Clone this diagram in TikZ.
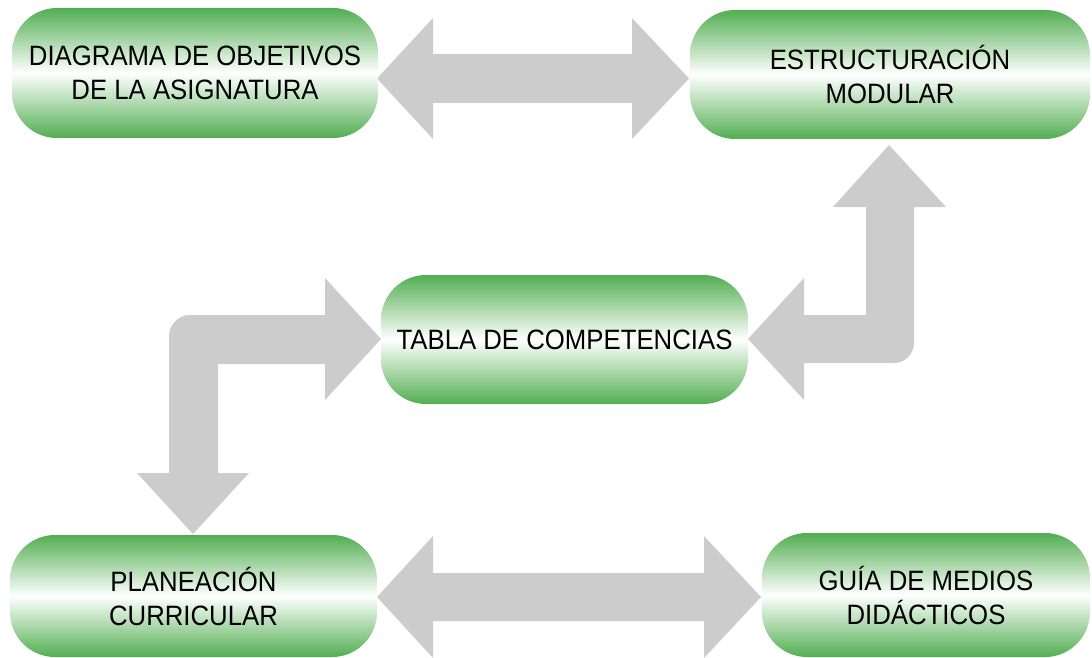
\documentclass[tikz,border=0pt]{standalone}
\usepackage{fontspec}
\newfontfamily\labfont[FakeStretch=0.92]{Liberation Sans}
\definecolor{boxgreen}{RGB}{82,174,82}
\definecolor{arrowgray}{RGB}{204,204,204}
\begin{document}
\begin{tikzpicture}[x=1pt,y=-1pt,
  greenbox/.style={rounded corners=45pt, top color=boxgreen, bottom color=boxgreen,
    middle color=white, draw=none, inner sep=0pt, align=center,
    font=\labfont\fontsize{28}{34}\selectfont, text=black},
  blockarrow/.style={fill=arrowgray, draw=none}]
\useasboundingbox (0,0) rectangle (1092,658);
% block arrows
\fill[blockarrow] (377,78.5) -- (433,18) -- (433,54) -- (632,54) -- (632,18) -- (689,78.5)
  -- (632,139) -- (632,103) -- (433,103) -- (433,139) -- cycle;
\fill[blockarrow] (377,597) -- (433,536) -- (433,573) -- (704,573) -- (704,536) -- (761,597)
  -- (704,658) -- (704,621) -- (433,621) -- (433,658) -- cycle;
\fill[blockarrow] (381,339) -- (325,278) -- (325,315) -- (189,315)
  .. controls (178,315) and (169,326) .. (169,335)
  -- (169,473) -- (137,473) -- (193,534) -- (249,473) -- (218,473) -- (218,364)
  -- (325,364) -- (325,400) -- cycle;
\fill[blockarrow] (889,145) -- (946,207) -- (914,207) -- (914,343)
  .. controls (914,354) and (905,363) .. (894,363)
  -- (804,363) -- (804,400) -- (748,339) -- (804,278) -- (804,315) -- (866,315)
  -- (866,207) -- (833,207) -- cycle;
% boxes
\node[greenbox, minimum width=366pt, minimum height=130pt] (b1) at (195,73)
  {DIAGRAMA DE OBJETIVOS\\DE LA ASIGNATURA};
\node[greenbox, minimum width=400pt, minimum height=129pt] (b2) at (890,74.5)
  {ESTRUCTURACIÓN\\MODULAR};
\node[greenbox, minimum width=367pt, minimum height=129pt] (b3) at (564.5,339.5)
  {TABLA DE COMPETENCIAS};
\node[greenbox, minimum width=367pt, minimum height=122pt] (b4) at (193.5,596)
  {PLANEACIÓN\\CURRICULAR};
\node[greenbox, minimum width=328pt, minimum height=124pt] (b5) at (926,595)
  {GUÍA DE MEDIOS\\DIDÁCTICOS};
\end{tikzpicture}
\end{document}
